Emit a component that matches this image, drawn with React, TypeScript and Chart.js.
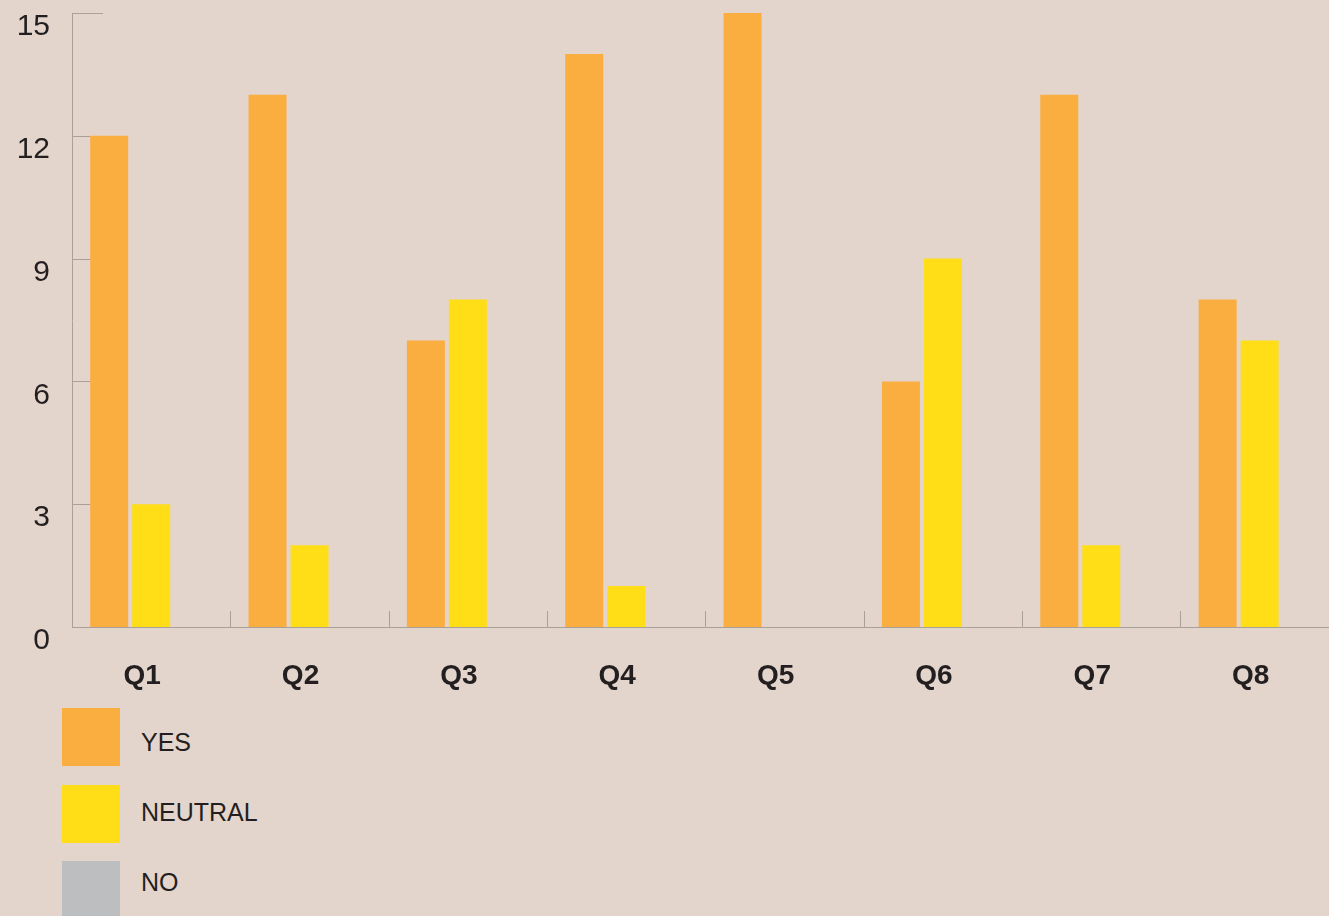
import React, { useEffect, useRef } from "react";
import { Chart, registerables } from "chart.js";

Chart.register(...registerables);

const categories = ["Q1", "Q2", "Q3", "Q4", "Q5", "Q6", "Q7", "Q8"];
const yesValues = [12, 13, 7, 14, 15, 6, 13, 8];
const neutralValues = [3, 2, 8, 1, 0, 9, 2, 7];
const noValues = [0, 0, 0, 0, 0, 0, 0, 0];
const seriesLabels = ["YES", "NEUTRAL", "NO"];
const seriesColors = ["#FBAE40", "#FFDE17", "#BCBEC0"];
const yTickValues = [0, 3, 6, 9, 12, 15];

const BG = "#E3D5CC";
const AXIS = "#A9A099";
const TEXT = "#231F20";
const FONT = "'Liberation Sans', Arial, Helvetica, sans-serif";

const CANVAS_W = 1345;
const CANVAS_H = 700;

const innerTicks = {
  id: "innerTicks",
  beforeDatasetsDraw(chart: any) {
    const { ctx, chartArea, scales } = chart;
    const y = scales.y;
    const x = scales.x;
    ctx.save();
    ctx.strokeStyle = AXIS;
    ctx.lineWidth = 1;
    ctx.beginPath();
    for (const t of y.ticks) {
      if (t.value <= 0) continue;
      const py = Math.round(y.getPixelForValue(t.value)) + 0.5;
      ctx.moveTo(chartArea.left, py);
      ctx.lineTo(chartArea.left + 31, py);
    }
    for (let i = 1; i <= categories.length; i++) {
      const px = Math.round(x.getPixelForValue(i - 0.5)) + 0.5;
      ctx.moveTo(px, chartArea.bottom);
      ctx.lineTo(px, chartArea.bottom - 16);
    }
    ctx.stroke();
    ctx.restore();
  },
};

export default function App() {
  const ref = useRef<HTMLCanvasElement | null>(null);

  useEffect(() => {
    if (!ref.current) return;
    const values = [yesValues, neutralValues, noValues];
    const chart = new Chart(ref.current, {
      type: "bar",
      data: {
        labels: categories,
        datasets: seriesLabels.map((label, i) => ({
          label,
          data: values[i],
          backgroundColor: seriesColors[i],
          borderWidth: 0,
          categoryPercentage: 0.7957,
          barPercentage: 0.905,
        })),
      },
      options: {
        responsive: false,
        animation: false,
        maintainAspectRatio: false,
        layout: { padding: { left: 0, right: 6.2, top: 13, bottom: 0 } },
        plugins: {
          legend: { display: false },
          tooltip: { enabled: false },
        },
        scales: {
          x: {
            grid: { display: false, drawTicks: false },
            border: { display: true, color: AXIS, width: 1 },
            ticks: {
              color: TEXT,
              font: { family: FONT, size: 28, weight: "bold" },
              padding: 32,
              labelOffset: -9,
            },
            afterFit(scale: any) {
              scale.height = 73;
              scale.paddingLeft = 0;
              scale.paddingRight = 0;
            },
          },
          y: {
            min: 0,
            max: 15,
            grid: { display: false, drawTicks: false },
            border: { display: true, color: AXIS, width: 1 },
            afterBuildTicks(scale: any) {
              scale.ticks = yTickValues.map((v) => ({ value: v }));
            },
            ticks: {
              color: TEXT,
              font: { family: FONT, size: 30 },
              padding: 22,
              labelOffset: 14,
            },
            afterFit(scale: any) {
              scale.width = 72;
              scale.paddingTop = 0;
              scale.paddingBottom = 0;
            },
          },
        },
      },
      plugins: [innerTicks],
    });
    return () => chart.destroy();
  }, []);

  return (
    <div
      style={{
        position: "relative",
        width: 1329,
        height: 916,
        overflow: "hidden",
        background: BG,
        fontFamily: FONT,
      }}
    >
      <style>{`body{margin:0;overflow:hidden;background:${BG};}`}</style>
      <canvas
        ref={ref}
        width={CANVAS_W}
        height={CANVAS_H}
        style={{ position: "absolute", left: 0, top: 0, width: CANVAS_W, height: CANVAS_H }}
      />
      {seriesLabels.map((label, i) => (
        <React.Fragment key={label}>
          <div
            style={{
              position: "absolute",
              left: 62,
              top: 708 + i * 76.5,
              width: 58,
              height: 58,
              background: seriesColors[i],
            }}
          />
          <div
            style={{
              position: "absolute",
              left: 141,
              top: 741.5 + i * 70.3 - 15,
              height: 30,
              lineHeight: "30px",
              fontSize: 25,
              color: TEXT,
              whiteSpace: "nowrap",
            }}
          >
            {label}
          </div>
        </React.Fragment>
      ))}
    </div>
  );
}
